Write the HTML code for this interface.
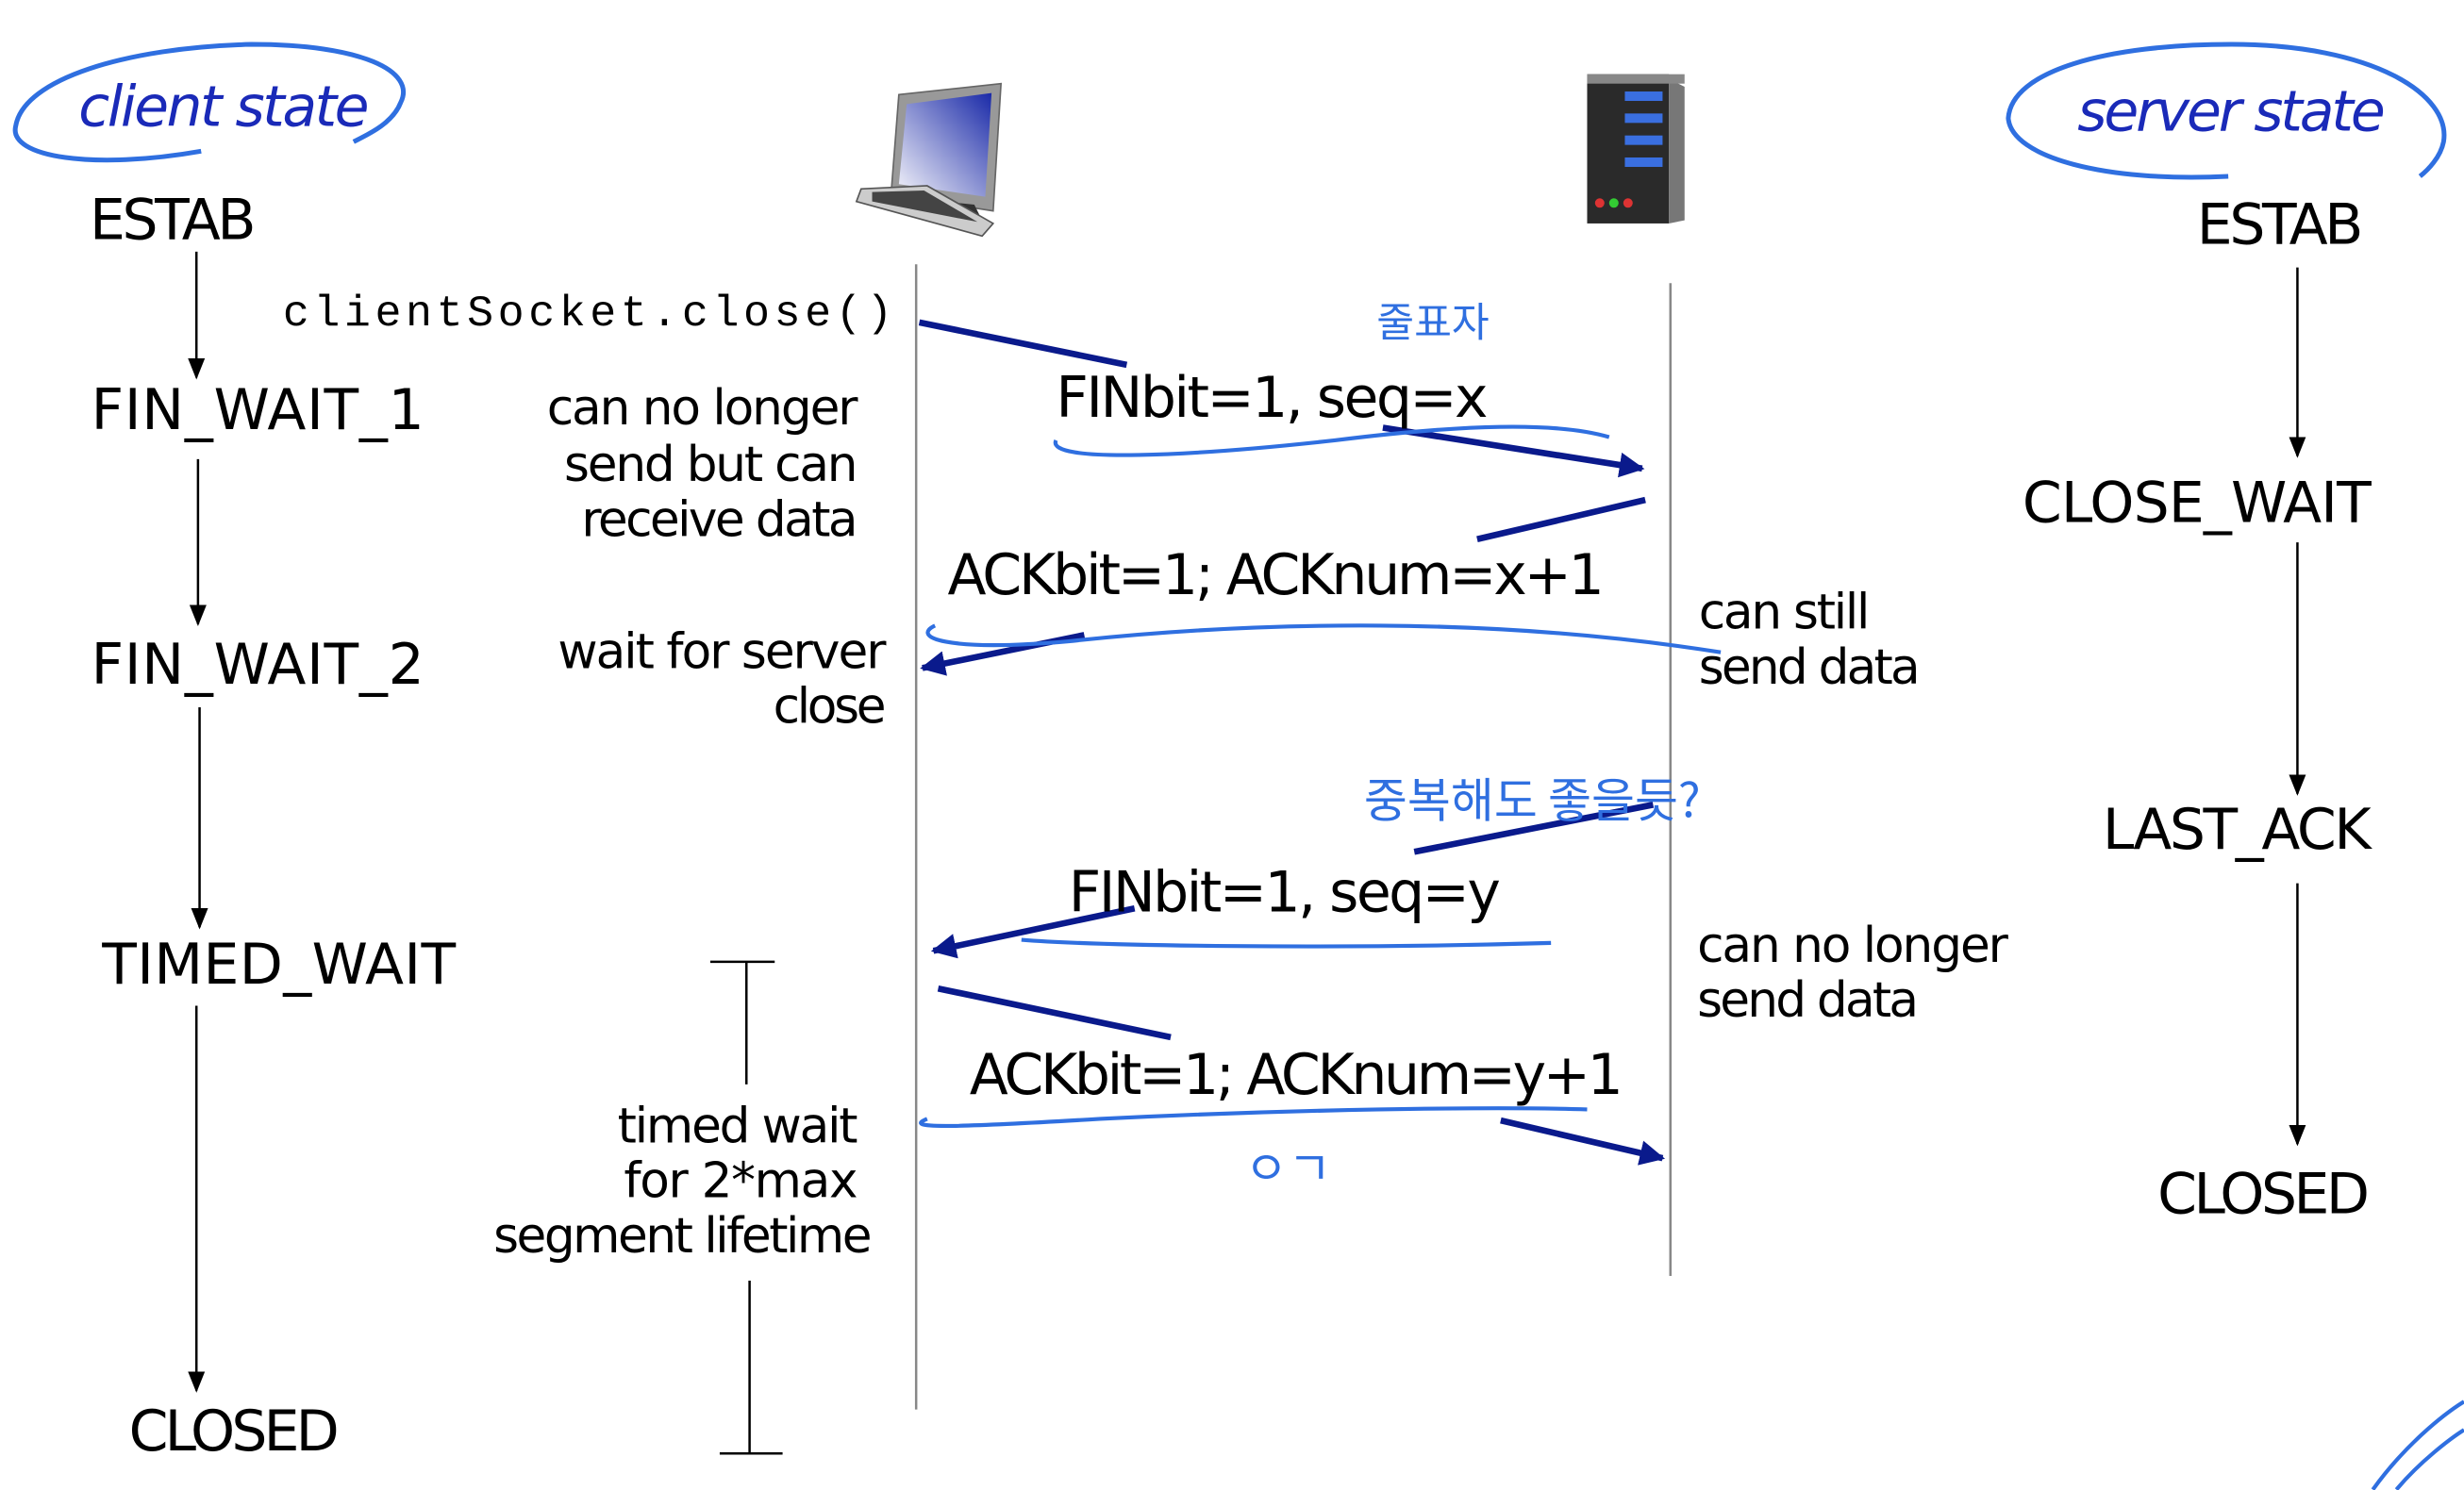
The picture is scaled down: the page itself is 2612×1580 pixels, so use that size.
<!DOCTYPE html>
<html><head><meta charset="utf-8"><style>
html,body{margin:0;padding:0;background:#fff;}
svg{display:block;}
text{font-family:"DejaVu Sans","Liberation Sans","Noto Sans CJK KR",sans-serif;fill:#000;}
.m{font-family:"Liberation Mono","DejaVu Sans Mono",monospace;}
.k{font-family:"Noto Sans CJK KR","NanumGothic",sans-serif;fill:#2f6fe0;}
</style></head><body>
<svg width="2612" height="1580" viewBox="0 0 1568 948" xmlns="http://www.w3.org/2000/svg">
<defs>
<marker id="a" viewBox="0 0 10 10" refX="9" refY="5" markerWidth="9" markerHeight="9" orient="auto"><path d="M0,1L10,5L0,9z" fill="#000"/></marker>
<marker id="b" viewBox="0 0 10 10" refX="9" refY="5" markerWidth="4" markerHeight="4" orient="auto"><path d="M0,0L10,5L0,10z" fill="#0a1a8c"/></marker>
<linearGradient id="sc" x1="1" y1="0" x2="0" y2="1"><stop offset="0" stop-color="#1a2aa8"/><stop offset="1" stop-color="#f4f4fa"/></linearGradient>
</defs>
<g fill="none" stroke="#2f6fe0" stroke-width="3">
<path d="M128,96 C60,108 5,100 10,80 C15,50 80,30 160,28 C230,28 265,45 255,65 C250,78 235,85 225,90"/>
<path d="M1418,112 C1340,116 1280,100 1278,75 C1280,45 1340,28 1420,28 C1510,28 1560,60 1555,90 C1553,100 1545,108 1540,112"/>
</g>
<text x="50" y="80" font-size="36" font-style="italic" style="fill:#1a2ab8" textLength="185">client state</text>
<text x="1322" y="83" font-size="36" font-style="italic" style="fill:#1a2ab8" textLength="196">server state</text>
<g>
<path d="M572,60 L637,53 L632,134 L567,124 Z" fill="#999" stroke="#666"/>
<path d="M577,66 L631,59 L627,125 L572,117 Z" fill="url(#sc)"/>
<path d="M600,128 L620,130 L625,140 L595,138Z" fill="#333"/>
<path d="M548,120 L590,118 L632,142 L625,150 L545,128Z" fill="#ccc" stroke="#555"/>
<path d="M555,122 L588,121 L622,141 L555,128Z" fill="#444"/>
</g>
<g>
<rect x="1010" y="47" width="52" height="95" fill="#2a2a2a"/>
<path d="M1062,50 L1072,55 L1072,140 L1062,142Z" fill="#777"/>
<rect x="1010" y="47" width="62" height="6" fill="#888"/>
<rect x="1034" y="58" width="24" height="6" fill="#3a6fe0"/>
<rect x="1034" y="72" width="24" height="6" fill="#3a6fe0"/>
<rect x="1034" y="86" width="24" height="6" fill="#3a6fe0"/>
<rect x="1034" y="100" width="24" height="6" fill="#3a6fe0"/>
<circle cx="1018" cy="129" r="3" fill="#d33"/><circle cx="1027" cy="129" r="3" fill="#3c3"/><circle cx="1036" cy="129" r="3" fill="#d33"/>
</g>
<line x1="583" y1="168" x2="583" y2="897" stroke="#888" stroke-width="1.5"/>
<line x1="1063" y1="180" x2="1063" y2="812" stroke="#888" stroke-width="1.5"/>
<g font-size="36">
<text x="57" y="152" textLength="106">ESTAB</text>
<text x="58" y="273" textLength="212">FIN_WAIT_1</text>
<text x="58" y="435" textLength="212">FIN_WAIT_2</text>
<text x="65" y="626" textLength="225">TIMED_WAIT</text>
<text x="82" y="923" textLength="134">CLOSED</text>
<text x="1398" y="155" textLength="106">ESTAB</text>
<text x="1287" y="332" textLength="222">CLOSE_WAIT</text>
<text x="1338" y="540" textLength="171">LAST_ACK</text>
<text x="1373" y="772" textLength="135">CLOSED</text>
</g>
<g stroke="#000" stroke-width="1.5" marker-end="url(#a)">
<line x1="125" y1="160" x2="125" y2="240"/>
<line x1="126" y1="292" x2="126" y2="397"/>
<line x1="127" y1="450" x2="127" y2="590"/>
<line x1="125" y1="640" x2="125" y2="885"/>
<line x1="1462" y1="170" x2="1462" y2="290"/>
<line x1="1462" y1="345" x2="1462" y2="505"/>
<line x1="1462" y1="562" x2="1462" y2="728"/>
</g>
<text class="m" x="180" y="207" font-size="28" textLength="388">clientSocket.close()</text>
<g font-size="31">
<text x="348" y="270" textLength="198">can no longer</text>
<text x="359" y="306" textLength="187">send but can</text>
<text x="370" y="341" textLength="176">receive data</text>
<text x="355" y="425" textLength="209">wait for server</text>
<text x="492" y="460" textLength="72">close</text>
<text x="393" y="727" textLength="153">timed wait</text>
<text x="397" y="762" textLength="149">for 2*max</text>
<text x="314" y="797" textLength="241">segment lifetime</text>
<text x="1081" y="400" textLength="109">can still</text>
<text x="1081" y="435" textLength="141">send data</text>
<text x="1080" y="612" textLength="198">can no longer</text>
<text x="1080" y="647" textLength="141">send data</text>
</g>
<g stroke="#000" stroke-width="1.5">
<line x1="475" y1="612" x2="475" y2="690"/><line x1="452" y1="612" x2="493" y2="612"/>
<line x1="477" y1="815" x2="477" y2="925"/><line x1="458" y1="925" x2="498" y2="925"/>
</g>
<g stroke="#0a1a8c" stroke-width="4" fill="none">
<line x1="585" y1="205" x2="717" y2="232"/>
<line x1="880" y1="272" x2="1045" y2="298" marker-end="url(#b)"/>
<line x1="1047" y1="318" x2="940" y2="343"/>
<line x1="690" y1="404" x2="587" y2="425" marker-end="url(#b)"/>
<line x1="1052" y1="512" x2="900" y2="542"/>
<line x1="722" y1="578" x2="594" y2="605" marker-end="url(#b)"/>
<line x1="597" y1="629" x2="745" y2="660"/>
<line x1="955" y1="713" x2="1058" y2="737" marker-end="url(#b)"/>
</g>
<g font-size="36">
<text x="672" y="265" textLength="275">FINbit=1, seq=x</text>
<text x="603" y="378" textLength="418">ACKbit=1; ACKnum=x+1</text>
<text x="680" y="580" textLength="275">FINbit=1, seq=y</text>
<text x="617" y="696" textLength="416">ACKbit=1; ACKnum=y+1</text>
</g>
<g fill="none" stroke="#2f6fe0" stroke-width="2.5">
<path d="M672,280 C665,295 760,290 850,280 C930,270 990,268 1024,278"/>
<path d="M595,398 C580,405 600,415 680,408 C800,395 950,392 1095,415"/>
<path d="M650,598 C700,602 850,604 987,600"/>
<path d="M590,712 C575,718 600,718 700,712 C820,706 950,704 1010,706"/>
<path d="M1510,948 C1530,920 1555,900 1568,892"/>
<path d="M1525,948 C1540,930 1560,915 1568,910"/>
</g>
<text class="k" x="876" y="214" font-size="26">줄표자</text>
<text class="k" x="868" y="520" font-size="30">중복해도 좋을듯?</text>
<text class="k" x="792" y="754" font-size="30">ㅇㄱ</text>
</svg>
</body></html>
